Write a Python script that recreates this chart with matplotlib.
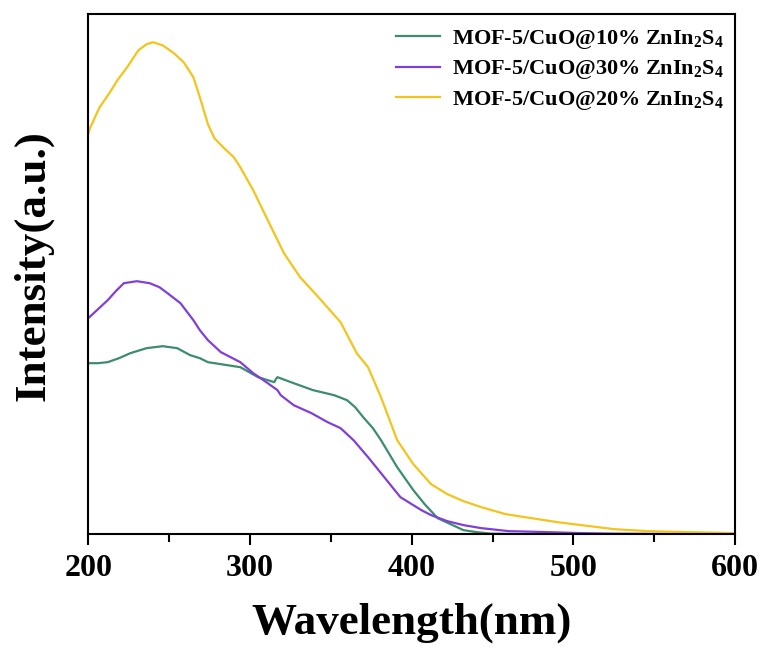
import matplotlib
matplotlib.use('Agg')
import matplotlib.pyplot as plt
from matplotlib.ticker import MultipleLocator

plt.rcParams['font.family'] = 'Liberation Serif'
plt.rcParams['font.weight'] = 'bold'
plt.rcParams['mathtext.default'] = 'regular'

# emission spectra, read as wavelength (nm) / intensity (a.u.)
wl_10 = [200, 206, 212, 219, 226, 236, 246, 255, 263, 269, 274, 282, 294, 305, 315, 316, 317,
         327, 339, 352, 360, 365, 370, 376, 381, 391, 401, 408, 416, 424, 432, 440, 449, 470,
         520, 600]
int_10 = [171, 171, 172, 176, 181, 186, 188, 186, 179, 176, 172, 170, 167, 157, 152, 155, 157,
          151, 144, 139, 134, 127, 117, 106, 94, 67, 44, 30, 16, 10, 4, 2, 0.5, 0,
          0, 0]

wl_30 = [200, 206, 212, 217, 222, 230, 238, 244, 249, 257, 265, 269, 274, 282, 294, 302, 311,
         317, 319, 327, 338, 348, 356, 364, 373, 383, 393, 406, 412, 422, 432, 443, 460, 484,
         505, 525, 560, 600]
int_30 = [216, 225, 234, 243, 251, 253, 251, 247, 241, 231, 214, 204, 194, 182, 172, 161, 151,
          144, 139, 129, 121, 112, 106, 94, 77, 57, 37, 24, 19, 13, 9, 6, 3, 2,
          1, 0.5, 0.2, 0]

wl_20 = [200, 201, 207, 213, 218, 224, 231, 236, 240, 246, 253, 259, 265, 269, 274, 278, 284,
         290, 294, 302, 311, 321, 331, 344, 356, 366, 373, 381, 391, 401, 412, 422, 432, 443,
         458, 474, 490, 505, 525, 546, 570, 600]
int_20 = [400, 406, 427, 441, 454, 467, 484, 490, 492, 489, 481, 472, 457, 437, 410, 396, 386,
          377, 367, 344, 314, 281, 257, 234, 212, 181, 167, 137, 94, 70, 50, 40, 33, 27,
          20, 16, 12, 9, 5, 3, 2, 1]

labels = ['MOF-5/CuO@10% ZnIn$_2$S$_4$',
          'MOF-5/CuO@30% ZnIn$_2$S$_4$',
          'MOF-5/CuO@20% ZnIn$_2$S$_4$']
colors = ['#3d8c6e', '#8040d8', '#f2c41c']

fig = plt.figure(figsize=(7.61, 6.49), dpi=100)
ax = fig.add_axes([0.116, 0.177, 0.85, 0.801])

ax.plot(wl_10, int_10, color=colors[0], lw=1.6, label=labels[0])
ax.plot(wl_30, int_30, color=colors[1], lw=1.6, label=labels[1])
ax.plot(wl_20, int_20, color=colors[2], lw=1.6, label=labels[2])

ax.set_xlim(200, 600)
ax.set_ylim(0, 520)
ax.xaxis.set_major_locator(MultipleLocator(100))
ax.xaxis.set_minor_locator(MultipleLocator(50))
ax.tick_params(axis='x', which='major', direction='out', length=8, width=1.5,
               labelsize=23, pad=6)
ax.tick_params(axis='x', which='minor', direction='out', length=6, width=1.5)
ax.tick_params(axis='y', left=False, labelleft=False)
for sp in ax.spines.values():
    sp.set_linewidth(1.5)

ax.set_xlabel('Wavelength(nm)', fontsize=32.5, fontweight='bold', labelpad=14)
ax.set_ylabel('Intensity(a.u.)', fontsize=32.5, fontweight='bold')
ax.yaxis.set_label_coords(-0.054, 0.517)

ax.legend(loc='upper right', frameon=False, fontsize=16, handlelength=1.95,
          handletextpad=0.55, borderaxespad=0.2, labelspacing=0.35,
          bbox_to_anchor=(1.003, 1.0))

fig.savefig('out.png', dpi=100)
